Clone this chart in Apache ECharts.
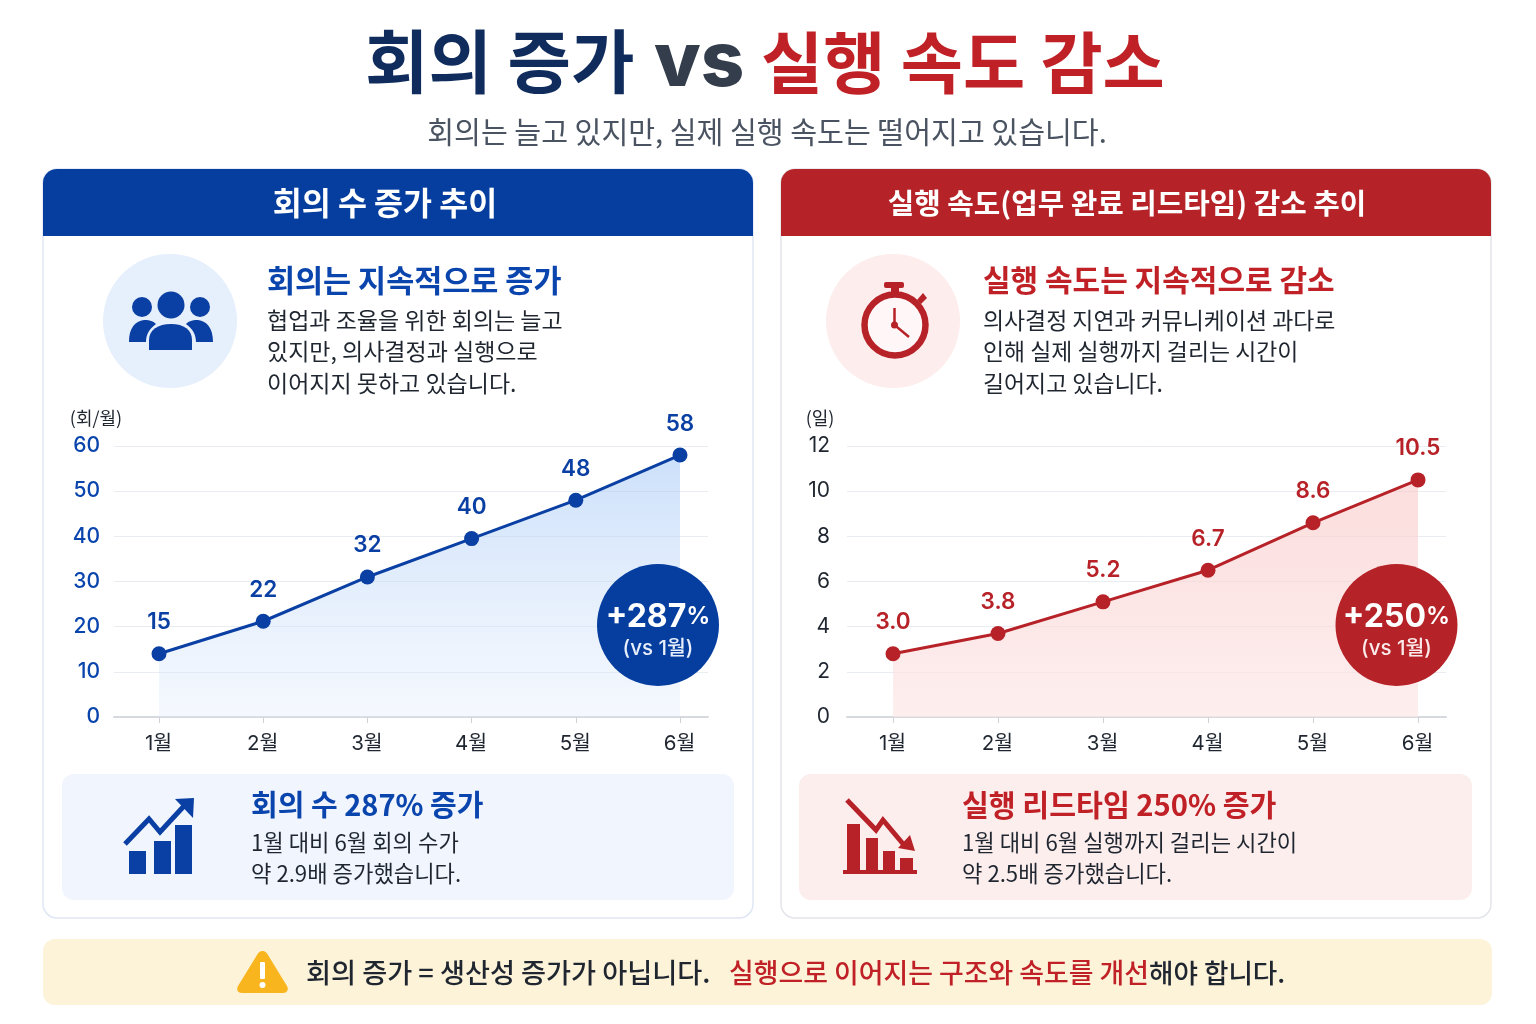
<!DOCTYPE html>
<html><head><meta charset="utf-8">
<style>html,body{margin:0;padding:0;background:#fff}#c{width:1536px;height:1024px}</style>
<script src="https://cdn.jsdelivr.net/npm/echarts@6/dist/echarts.min.js"></script></head>
<body><div id="c"></div>
<script>
const months = ['1월','2월','3월','4월','5월','6월'];
const meetingPoints = [14, 21.2, 31, 39.5, 48, 58];
const meetingLabels = ['15','22','32','40','48','58'];
const leadPoints = [2.8, 3.7, 5.1, 6.5, 8.6, 10.5];
const leadLabels = ['3.0','3.8','5.2','6.7','8.6','10.5'];
const meetingTicks = {min:0,max:60,interval:10};
const leadTicks = {min:0,max:12,interval:2};

const KR = '"Noto Sans CJK KR","Noto Sans",sans-serif';
const NUM = 'Inter,"Noto Sans CJK KR",sans-serif';
const BLUE='#0a3fa3', RED='#b72228', INK='#1f2630';

function T(x,y,text,size,color,weight,align,font){
  return {type:'text',x,y,z:10,silent:true,style:{text,fontSize:size,fill:color,fontWeight:weight||400,
    fontFamily:font||KR,textAlign:align||'left',textVerticalAlign:'middle'}};
}
function RR(x,y,w,h,r,fill,stroke,z){
  return {type:'rect',z:z||1,silent:true,shape:{x,y,width:w,height:h,r},style:{fill,stroke:stroke||null,lineWidth:stroke?1.5:0}};
}
function C(cx,cy,r,fill,stroke,lw,z){
  return {type:'circle',z:z||2,silent:true,shape:{cx,cy,r},style:{fill,stroke:stroke||null,lineWidth:lw||0}};
}
let pathCount=0;
function P(d,fill,stroke,lw){
  const name='iconPath'+(pathCount++);
  echarts.graphic.registerShape(name,echarts.graphic.extendPath(d));
  return {type:name,z:3,silent:true,shape:{},style:{fill:fill||'none',stroke:stroke||null,lineWidth:lw||0}};
}
const gfx = [
  T(365,62,'회의 증가',69,'#102c5c',700),
  T(654,63,'vs',76,'#333d4b',800,'left',NUM),
  T(761,62,'실행 속도 감소',67.6,'#c02126',700),
  T(767,132,'회의는 늘고 있지만, 실제 실행 속도는 떨어지고 있습니다.',29.2,'#4a5361',400,'center'),
  // cards
  RR(43,169,710,749,14,'#ffffff','#dfe6f4'),
  RR(781,169,710,749,14,'#ffffff','#e3e5ea'),
  RR(43,169,710,67,[14,14,0,0],'#053e9f'),
  RR(781,169,710,67,[14,14,0,0],'#b52227'),
  T(385,203,'회의 수 증가 추이',31.5,'#fff',700,'center'),
  T(1127,203,'실행 속도(업무 완료 리드타임) 감소 추이',28.8,'#fff',700,'center'),
  // left info
  C(170,321,67,'#e6effc'),
  C(171,305,13.5,BLUE,null,0,3), C(142,307,10,BLUE,null,0,3), C(200,307,10,BLUE,null,0,3),
  P('M129 342 C129 328 135 321 144 320 C151 320 154 322 156 324 C149 329 146 335 146 342 Z',BLUE),
  P('M213 342 C213 328 207 321 198 320 C191 320 188 322 186 324 C193 329 196 335 196 342 Z',BLUE),
  P('M149 350 L149 340 C149 330 158 324 171 324 C184 324 192 330 192 340 L192 350 Z',BLUE),
  T(267,280,'회의는 지속적으로 증가',30.5,'#0a44ad',700),
  T(267,320,'협업과 조율을 위한 회의는 늘고',23,INK,400),
  T(267,351,'있지만, 의사결정과 실행으로',23,INK,400),
  T(267,383,'이어지지 못하고 있습니다.',23,INK,400),
  // right info
  C(893,321,67,'#fdeded'),
  C(895,325,30.5,'#fff7f7',RED,6.5,3),
  RR(884,282,20,6,2,RED,null,3), RR(891,288,8,7,0,RED,null,3),
  P('M917 300 L923 293 L927 298 L921 304 Z',RED),
  P('M894.5 308 L894.5 325 L909 337',null,RED,2.5),
  C(894.5,325,3.5,RED,null,0,4),
  T(983,280,'실행 속도는 지속적으로 감소',30,'#c02126',700),
  T(983,320,'의사결정 지연과 커뮤니케이션 과다로',22.9,INK,400),
  T(983,351,'인해 실제 실행까지 걸리는 시간이',22.9,INK,400),
  T(983,383,'길어지고 있습니다.',22.9,INK,400),
  // callouts
  RR(62,774,672,126,12,'#f0f5fe'),
  RR(799,774,673,126,12,'#fdeeee'),
  RR(129,851,17,23,0,BLUE,null,3), RR(154,841,17,33,0,BLUE,null,3), RR(175,825,17,49,0,BLUE,null,3),
  P('M125 844 L149 819 L160 832 L184 806',null,BLUE,5),
  P('M175 799 L194 798 L193 818 Z',BLUE),
  T(251,805,'회의 수 287% 증가',29,'#0a44ad',700),
  T(251,843,'1월 대비 6월 회의 수가',22.2,INK,400),
  T(251,874,'약 2.9배 증가했습니다.',22.2,INK,400),
  RR(847,824,13,46,0,RED,null,3), RR(866,838,12,32,0,RED,null,3), RR(883,851,12,19,0,RED,null,3), RR(900,858,13,12,0,RED,null,3),
  RR(843,870,74,4,0,RED,null,3),
  P('M847 800 L876 830 L883 820 L904 845',null,RED,5),
  P('M898 848 L910 835 L915 851 Z',RED),
  T(962,805,'실행 리드타임 250% 증가',29.2,'#c02126',700),
  T(962,843,'1월 대비 6월 실행까지 걸리는 시간이',22.2,INK,400),
  T(962,874,'약 2.5배 증가했습니다.',22.2,INK,400),
  // badges
  C(658,625,61,'#053e9f',null,0,20),
  {type:'text',x:658,y:617,z:21,silent:true,style:{text:'{a|+287}{b|%}',textAlign:'center',textVerticalAlign:'middle',
    rich:{a:{fontSize:32,fontWeight:700,fill:'#fff',fontFamily:NUM},b:{fontSize:24,fontWeight:600,fill:'#fff',fontFamily:NUM}}}},
  Object.assign(T(658,649,'(vs 1월)',20.5,'#e8effb',500,'center',NUM),{z:21}),
  C(1396.5,625,61,'#b52227',null,0,20),
  {type:'text',x:1396.5,y:617,z:21,silent:true,style:{text:'{a|+250}{b|%}',textAlign:'center',textVerticalAlign:'middle',
    rich:{a:{fontSize:32,fontWeight:700,fill:'#fff',fontFamily:NUM},b:{fontSize:24,fontWeight:600,fill:'#fff',fontFamily:NUM}}}},
  Object.assign(T(1396.5,649,'(vs 1월)',20.5,'#fbeaea',500,'center',NUM),{z:21}),
  // banner
  RR(43,939,1449,66,12,'#fdf3d9'),
  P('M262.5 951 C265 951 267 953 268 955 L287 986 C289 990 287 993 283 993 L242 993 C238 993 236 990 238 986 L257 955 C258 953 260 951 262.5 951 Z','#f9b51d'),
  RR(260,962,5,17,1,'#fff',null,4), C(262.5,985,3,'#fff',null,0,4),
  T(306,973,'회의 증가 = 생산성 증가가 아닙니다.',27.2,INK,500),
  T(729,973,'실행으로 이어지는 구조와 속도를 개선',26.9,'#c02126',500),
  T(1149,973,'해야 합니다.',26.6,INK,500),
];

function band(i,left,right,color,ticks,unit,axisColor,points,labels,topCol,botCol){
  const outer = {left:left[0],width:left[1]-left[0],top:446,height:271};
  const inner = {left:right[0],width:right[1]-right[0],top:446,height:271};
  const xO = {gridIndex:i*2,type:'category',show:true,z:3,data:months,axisLabel:{show:false},axisTick:{show:false},
    axisLine:{show:true,lineStyle:{color:'#d6d9de',width:2}},splitLine:{show:false}};
  const yO = {gridIndex:i*2,type:'value',z:3,min:ticks.min,max:ticks.max,interval:ticks.interval,
    name:unit,nameLocation:'end',nameGap:19,nameTextStyle:{color:INK,fontSize:18,fontFamily:KR,align:'center',padding:[0,0,0,i?-54:-36]},
    axisLine:{show:false},axisTick:{show:false},
    axisLabel:{color:axisColor,fontSize:21,fontWeight:i?400:500,fontFamily:NUM,margin:i?17:14,padding:[0,0,3,0]},
    splitLine:{lineStyle:{color:'#e9ecf1',width:1}}};
  const xI = {gridIndex:i*2+1,type:'category',z:3,data:months,boundaryGap:false,
    axisLine:{show:false},axisTick:{show:true,length:6,lineStyle:{color:'#cfd3d9'}},
    axisLabel:{color:INK,fontSize:20.5,fontFamily:NUM,margin:17,padding:[0,1,0,0]},splitLine:{show:false}};
  const yI = {gridIndex:i*2+1,type:'value',z:3,min:ticks.min,max:ticks.max,interval:ticks.interval,show:false,splitLine:{show:false}};
  const s = {type:'line',xAxisIndex:i*2+1,yAxisIndex:i*2+1,data:points,symbol:'circle',symbolSize:15,smooth:false,
    lineStyle:{color,width:3},itemStyle:{color},z:5,
    areaStyle:{opacity:1,color:{type:'linear',x:0,y:0,x2:0,y2:1,colorStops:[{offset:0,color:topCol},{offset:1,color:botCol}]}},
    label:{show:true,position:'top',distance:12.5,color,fontSize:22.5,fontWeight:600,fontFamily:NUM,
      formatter:p=>labels[p.dataIndex]}};
  return {grids:[outer,inner],x:[xO,xI],y:[yO,yI],s};
}
const a = band(0,[114,708],[159,680],BLUE,meetingTicks,'(회/월)','#0a44ad',meetingPoints,meetingLabels,'rgba(170,203,247,0.6)','rgba(225,236,252,0.35)');
const b = band(1,[847,1446],[893,1418],RED,leadTicks,'(일)',INK,leadPoints,leadLabels,'rgba(250,200,200,0.6)','rgba(253,232,232,0.7)');

const chart = echarts.init(document.getElementById('c'),null,{width:1536,height:1024});
chart.setOption({
  backgroundColor:'#ffffff',animation:false,
  grid:[...a.grids,...b.grids],
  xAxis:[...a.x,...b.x],yAxis:[...a.y,...b.y],
  series:[a.s,b.s],
  graphic:{elements:gfx}
});
</script></body></html>
